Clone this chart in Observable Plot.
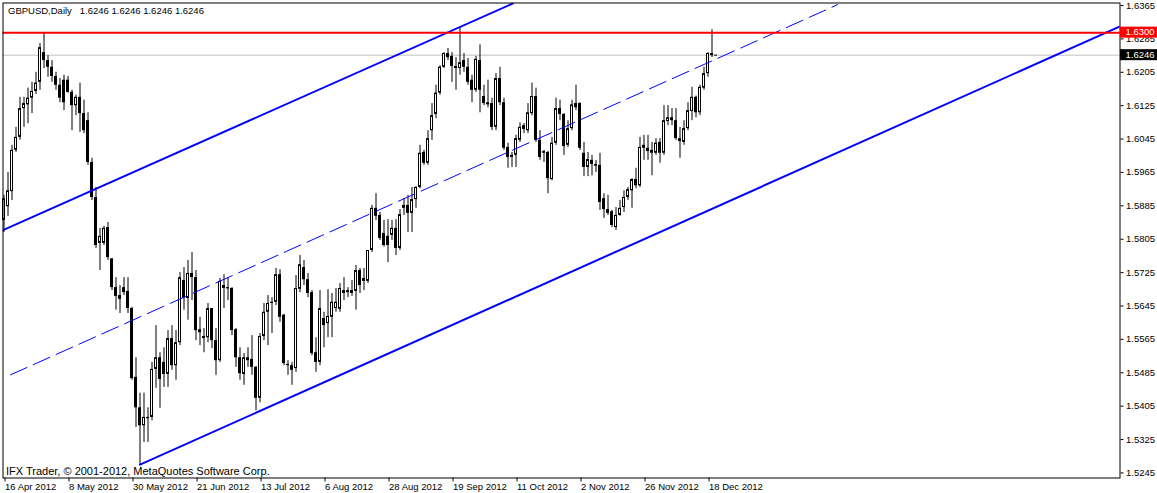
<!DOCTYPE html>
<html>
<head>
<meta charset="utf-8">
<script src="https://cdn.jsdelivr.net/npm/d3@7"></script>
<script src="https://cdn.jsdelivr.net/npm/@observablehq/plot@0.6"></script>
<style>
  html, body { margin: 0; padding: 0; background: #ffffff; }
  #chart { width: 1157px; height: 493px; overflow: hidden; }
  svg { display: block; }
</style>
</head>
<body>
<div id="chart"></div>
<script>
// ---- GBPUSD Daily, 16 Apr 2012 .. 20 Dec 2012 (one bar per trading day) ----
const open = [
  1.5850,1.5883,1.5919,1.6018,1.6049,1.6118,1.6127,1.6143,1.6159,1.6181,
  1.6252,1.6233,1.6217,1.6195,1.6174,1.6186,1.6186,1.6157,1.6125,1.6145,
  1.6106,1.6089,1.5989,1.5905,1.5795,1.5795,1.5833,1.5758,1.5689,1.5670,
  1.5689,1.5680,1.5639,1.5474,1.5401,1.5358,1.5378,1.5378,1.5493,1.5521,
  1.5510,1.5481,1.5567,1.5502,1.5557,1.5706,1.5663,1.5723,1.5713,1.5588,
  1.5567,1.5569,1.5639,1.5562,1.5514,1.5694,1.5689,1.5687,1.5588,1.5521,
  1.5481,1.5521,1.5517,1.5498,1.5424,1.5572,1.5630,1.5651,1.5654,1.5720,
  1.5623,1.5505,1.5502,1.5495,1.5685,1.5737,1.5708,1.5677,1.5533,1.5510,
  1.5615,1.5603,1.5618,1.5639,1.5637,1.5675,1.5677,1.5675,1.5680,1.5730,
  1.5711,1.5704,1.5778,1.5879,1.5862,1.5819,1.5812,1.5814,1.5831,1.5783,
  1.5879,1.5886,1.5867,1.5900,1.5929,1.6013,1.5987,1.6065,1.6104,1.6155,
  1.6217,1.6250,1.6243,1.6219,1.6214,1.6233,1.6217,1.6186,1.6162,1.6233,
  1.6147,1.6127,1.6130,1.6073,1.6190,1.6132,1.6025,1.6001,1.6006,1.6042,
  1.6077,1.6065,1.6106,1.6147,1.6042,1.6015,1.6013,1.5948,1.6035,1.6118,
  1.6104,1.6030,1.6070,1.6130,1.6130,1.6011,1.5977,1.5994,1.5984,1.5982,
  1.5902,1.5876,1.5871,1.5833,1.5862,1.5881,1.5905,1.5921,1.5948,1.5933,
  1.6030,1.6023,1.6018,1.6011,1.6037,1.6011,1.6087,1.6096,1.6089,1.6039,
  1.6037,1.6070,1.6111,1.6145,1.6108,1.6167,1.6202,1.6250,1.6246
];
const high = [
  1.5910,1.5965,1.6030,1.6073,1.6145,1.6145,1.6167,1.6181,1.6205,1.6274,
  1.6298,1.6245,1.6233,1.6205,1.6190,1.6198,1.6195,1.6162,1.6150,1.6179,
  1.6138,1.6108,1.5999,1.5929,1.5831,1.5836,1.5845,1.5758,1.5713,1.5694,
  1.5713,1.5713,1.5642,1.5521,1.5436,1.5436,1.5401,1.5510,1.5598,1.5533,
  1.5545,1.5586,1.5598,1.5586,1.5725,1.5737,1.5754,1.5773,1.5730,1.5618,
  1.5591,1.5651,1.5639,1.5591,1.5711,1.5720,1.5713,1.5689,1.5591,1.5545,
  1.5531,1.5545,1.5574,1.5500,1.5579,1.5651,1.5670,1.5665,1.5735,1.5732,
  1.5625,1.5514,1.5510,1.5718,1.5766,1.5754,1.5723,1.5682,1.5569,1.5682,
  1.5630,1.5684,1.5675,1.5687,1.5699,1.5713,1.5689,1.5706,1.5742,1.5735,
  1.5735,1.5778,1.5886,1.5914,1.5869,1.5850,1.5852,1.5850,1.5852,1.5876,
  1.5902,1.5910,1.5929,1.5931,1.6030,1.6018,1.6065,1.6130,1.6174,1.6221,
  1.6252,1.6262,1.6252,1.6240,1.6312,1.6250,1.6238,1.6198,1.6243,1.6271,
  1.6174,1.6186,1.6143,1.6202,1.6217,1.6143,1.6035,1.6013,1.6054,1.6084,
  1.6082,1.6130,1.6179,1.6167,1.6065,1.6018,1.6015,1.6049,1.6143,1.6138,
  1.6106,1.6089,1.6138,1.6174,1.6132,1.6037,1.6013,1.6006,1.5994,1.6011,
  1.5914,1.5910,1.5874,1.5881,1.5898,1.5921,1.5929,1.5950,1.5975,1.6049,
  1.6054,1.6054,1.6037,1.6046,1.6046,1.6125,1.6125,1.6118,1.6118,1.6073,
  1.6089,1.6132,1.6169,1.6148,1.6174,1.6217,1.6252,1.6307,1.6246
];
const low = [
  1.5821,1.5860,1.5898,1.6013,1.6042,1.6073,1.6082,1.6106,1.6152,1.6162,
  1.6214,1.6193,1.6181,1.6162,1.6132,1.6113,1.6155,1.6065,1.6101,1.6061,
  1.6058,1.5982,1.5898,1.5783,1.5730,1.5790,1.5754,1.5682,1.5635,1.5627,
  1.5670,1.5627,1.5467,1.5354,1.5265,1.5318,1.5318,1.5370,1.5448,1.5400,
  1.5450,1.5450,1.5491,1.5467,1.5550,1.5635,1.5611,1.5658,1.5562,1.5550,
  1.5533,1.5557,1.5543,1.5479,1.5510,1.5639,1.5658,1.5574,1.5498,1.5467,
  1.5455,1.5498,1.5479,1.5394,1.5413,1.5562,1.5550,1.5579,1.5646,1.5606,
  1.5502,1.5479,1.5455,1.5486,1.5677,1.5694,1.5665,1.5526,1.5486,1.5502,
  1.5545,1.5569,1.5569,1.5630,1.5630,1.5658,1.5665,1.5668,1.5635,1.5675,
  1.5682,1.5699,1.5773,1.5850,1.5802,1.5786,1.5749,1.5802,1.5766,1.5778,
  1.5862,1.5821,1.5821,1.5879,1.5926,1.5982,1.5982,1.6042,1.6094,1.6150,
  1.6214,1.6233,1.6181,1.6162,1.6198,1.6205,1.6174,1.6132,1.6157,1.6108,
  1.6125,1.6120,1.6065,1.6065,1.6125,1.6018,1.5975,1.5977,1.5977,1.6037,
  1.6058,1.6058,1.6101,1.6037,1.5994,1.5989,1.5914,1.5945,1.6030,1.6089,
  1.6006,1.6025,1.6065,1.6113,1.6018,1.5955,1.5955,1.5957,1.5965,1.5874,
  1.5855,1.5862,1.5833,1.5826,1.5860,1.5869,1.5898,1.5879,1.5926,1.5929,
  1.5994,1.5994,1.5957,1.6006,1.5987,1.6006,1.6077,1.6077,1.6042,1.5999,
  1.6030,1.6065,1.6089,1.6096,1.6101,1.6162,1.6193,1.6240,1.6246
];
const close = [
  1.5902,1.5921,1.6018,1.6049,1.6118,1.6130,1.6143,1.6159,1.6179,1.6264,
  1.6233,1.6217,1.6195,1.6174,1.6143,1.6132,1.6157,1.6125,1.6145,1.6106,
  1.6065,1.5989,1.5905,1.5790,1.5812,1.5831,1.5761,1.5689,1.5668,1.5661,
  1.5677,1.5639,1.5471,1.5401,1.5358,1.5378,1.5375,1.5493,1.5521,1.5469,
  1.5481,1.5567,1.5502,1.5557,1.5713,1.5663,1.5723,1.5713,1.5586,1.5581,
  1.5572,1.5639,1.5562,1.5514,1.5704,1.5687,1.5686,1.5586,1.5521,1.5483,
  1.5521,1.5514,1.5498,1.5424,1.5572,1.5630,1.5651,1.5654,1.5720,1.5618,
  1.5507,1.5502,1.5491,1.5687,1.5744,1.5708,1.5675,1.5531,1.5510,1.5639,
  1.5598,1.5620,1.5654,1.5654,1.5687,1.5682,1.5682,1.5682,1.5730,1.5694,
  1.5704,1.5778,1.5879,1.5860,1.5807,1.5790,1.5790,1.5831,1.5783,1.5864,
  1.5886,1.5867,1.5900,1.5929,1.6011,1.5987,1.6046,1.6101,1.6155,1.6217,
  1.6250,1.6240,1.6219,1.6214,1.6228,1.6217,1.6181,1.6162,1.6236,1.6162,
  1.6130,1.6132,1.6073,1.6190,1.6132,1.6023,1.6001,1.6006,1.6046,1.6073,
  1.6068,1.6108,1.6147,1.6042,1.6001,1.6011,1.5950,1.6035,1.6118,1.6104,
  1.6027,1.6070,1.6127,1.6120,1.6023,1.5977,1.5996,1.5984,1.5980,1.5893,
  1.5876,1.5867,1.5838,1.5862,1.5879,1.5905,1.5924,1.5948,1.5933,1.6025,
  1.6023,1.6015,1.6011,1.6035,1.6011,1.6089,1.6096,1.6089,1.6046,1.6046,
  1.6070,1.6113,1.6145,1.6108,1.6169,1.6202,1.6250,1.6245,1.6246
];

// time axis labels (bar index of each labelled day)
const dateLabels = ["16 Apr 2012","8 May 2012","30 May 2012","21 Jun 2012","13 Jul 2012","6 Aug 2012",
                    "28 Aug 2012","19 Sep 2012","11 Oct 2012","2 Nov 2012","26 Nov 2012","18 Dec 2012"];
const dateLabelBars = [0,16,32,48,64,80,96,112,128,144,160,176];

// price axis ticks
const priceTicks = [1.5245,1.5325,1.5405,1.5485,1.5565,1.5645,1.5725,1.5805,
                    1.5885,1.5965,1.6045,1.6125,1.6205,1.6285,1.6365];
const priceRange = [1.52329, 1.63710];   // visible price range of the window
const barRange = [-0.25, 279];           // visible bar range of the window

// drawn objects: trend lines (bar, price) and horizontal levels
const upperLineBars = [-0.25, 127.25],  upperLinePrices = [1.5827, 1.6370];
const midLineBars   = [1.625, 208.4],   midLinePrices   = [1.5480, 1.6367];
const lowerLineBars = [34, 279],        lowerLinePrices = [1.5265, 1.6315];
const resistanceLevel = 1.6300;
const bidLevel = 1.6246;
const title = "GBPUSD,Daily\u00a0\u00a0 1.6246 1.6246 1.6246 1.6246";
const copyright = "IFX Trader, \u00a9 2001-2012, MetaQuotes Software Corp.";

// ---- build tables ----
const bars = open.map((o, i) => ({i, o, h: high[i], l: low[i], c: close[i]}));
const pxPerPrice = 475 / (priceRange[1] - priceRange[0]);
const dojis  = bars.filter(d => Math.abs(d.c - d.o) * pxPerPrice < 1);
const bodies = bars.filter(d => Math.abs(d.c - d.o) * pxPerPrice >= 1);
const bull = bodies.filter(d => d.c > d.o);
const bear = bodies.filter(d => d.c <= d.o);
const toPts = (bs, ps) => bs.map((b, k) => ({i: b, p: ps[k]}));
const upper = toPts(upperLineBars, upperLinePrices);
const mid   = toPts(midLineBars, midLinePrices);
const lower = toPts(lowerLineBars, lowerLinePrices);

const font = "'Liberation Sans', Arial, sans-serif";

const chart = Plot.plot({
  width: 1157,
  height: 493,
  marginLeft: 2.5,
  marginRight: 37.5,
  marginTop: 2.5,
  marginBottom: 15.5,
  style: {fontFamily: font, fontSize: "9.5px", color: "#000", background: "#fff"},
  x: {domain: barRange},
  y: {domain: priceRange},
  marks: [
    Plot.ruleY([bidLevel], {stroke: "#c0c0c0", strokeWidth: 1}),
    Plot.ruleX(bars, {x: "i", y1: "l", y2: "h", stroke: "#000", strokeWidth: 1}),
    Plot.rect(bull, {x1: d => d.i - 0.375, x2: d => d.i + 0.375, y1: "o", y2: "c",
                     fill: "#fff", stroke: "#000", strokeWidth: 1, inset: 0.5}),
    Plot.rect(bear, {x1: d => d.i - 0.375, x2: d => d.i + 0.375, y1: "o", y2: "c",
                     fill: "#000", stroke: "#000", strokeWidth: 1, inset: 0.5}),
    Plot.ruleY(dojis, {y: d => (d.o + d.c) / 2, x1: d => d.i - 0.375, x2: d => d.i + 0.375,
                       stroke: "#000", strokeWidth: 1}),
    Plot.line(mid, {x: "i", y: "p", stroke: "#0000ff", strokeWidth: 1,
                    strokeDasharray: "18,7", clip: true}),
    Plot.line(upper, {x: "i", y: "p", stroke: "#0000ff", strokeWidth: 2, clip: true}),
    Plot.line(lower, {x: "i", y: "p", stroke: "#0000ff", strokeWidth: 2, clip: true}),
    Plot.ruleY([resistanceLevel], {stroke: "#ff0000", strokeWidth: 2}),
    Plot.frame({stroke: "#000", strokeWidth: 1}),
    Plot.axisY({anchor: "right", ticks: priceTicks, tickFormat: d3.format(".4f"),
                tickSize: 3, tickPadding: 3, label: null, fill: "#000", stroke: "#000"}),
    Plot.axisX({anchor: "bottom", ticks: dateLabelBars,
                tickFormat: i => dateLabels[dateLabelBars.indexOf(i)],
                tickSize: 4, tickPadding: 1, textAnchor: "start", dx: 1,
                label: null, fill: "#000", stroke: "#000"}),
    Plot.text([title], {frameAnchor: "top-left", dx: 5, dy: 4, lineAnchor: "top",
                        fontSize: 9.5, fill: "#000"}),
    Plot.text([copyright], {frameAnchor: "bottom-left", dx: 3, dy: -3, lineAnchor: "bottom",
                            fontSize: 11, fill: "#000"})
  ]
});

// price labels on the right scale (positions come from the plot's own y scale)
const ys = chart.scale("y");
const svg = d3.select(chart);
const tags = [{p: resistanceLevel, bg: "#ff0000"}, {p: bidLevel, bg: "#000000"}];
const g = svg.append("g").attr("text-anchor", "start");
for (const t of tags) {
  const yc = ys.apply(t.p);
  g.append("rect").attr("x", 1120).attr("y", yc - 5.5).attr("width", 37).attr("height", 11)
    .attr("fill", t.bg);
  g.append("text").attr("x", 1125.5).attr("y", yc).attr("dy", "0.34em")
    .attr("text-anchor", "start")
    .attr("fill", "#fff").attr("font-family", font).attr("font-size", "9.5px")
    .text(d3.format(".4f")(t.p));
}

document.getElementById("chart").appendChild(chart);
</script>
</body>
</html>
